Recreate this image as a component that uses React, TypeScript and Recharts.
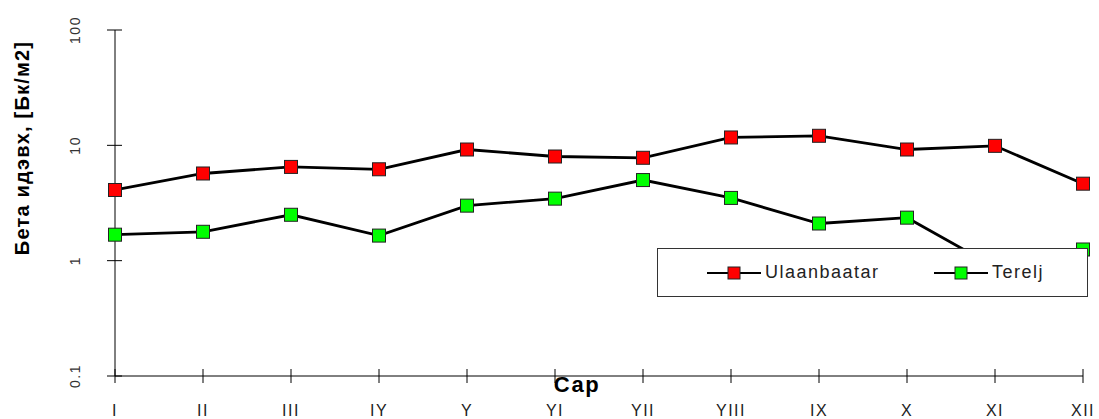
import { LineChart, Line, XAxis, YAxis, Legend, Label } from "recharts"

// monthly beta activity, Bq/m2 (log scale)
const months = ["I", "II", "III", "IY", "Y", "YI", "YII", "YIII", "IX", "X", "XI", "XII"]
const ulaanbaatar = [4.1, 5.7, 6.5, 6.2, 9.2, 8.0, 7.8, 11.7, 12.1, 9.2, 9.9, 4.65]
const terelj = [1.68, 1.78, 2.5, 1.65, 3.0, 3.45, 5.0, 3.5, 2.1, 2.36, 0.88, 1.25]
const yTicks = [0.1, 1, 10, 100]

const data = months.map((m, i) => ({ month: m, ulaanbaatar: ulaanbaatar[i], terelj: terelj[i] }))

const seriesOrder = ["ulaanbaatar", "terelj"]
const markerFill: Record<string, string> = {
  ulaanbaatar: "#ff0000",
  terelj: "#00ff00",
}

const font = "'Liberation Sans', Arial, sans-serif"

const squareDot = (fill: string) => (props: any) => {
  const { cx, cy, index } = props
  if (cx == null || cy == null) return <g key={index} />
  return <rect key={index} x={cx - 6.5} y={cy - 6.5} width={13} height={13} fill={fill} stroke="#222" strokeWidth={1} />
}

const XTick = ({ x, y, payload }: any) => (
  <g>
    <line x1={x} x2={x} y1={y - 7} y2={y + 7} stroke="#000" />
    <text x={x} y={y + 40} textAnchor="middle" fontSize={16} letterSpacing={1.5} fill="#222" fontFamily={font}>
      {payload.value}
    </text>
  </g>
)

const YTick = ({ x, y, payload }: any) => (
  <g>
    <line x1={x - 8} x2={x + 7} y1={y} y2={y} stroke="#000" />
    <text
      x={x - 35}
      y={y}
      textAnchor="middle"
      fontSize={14}
      letterSpacing={1.5}
      fill="#333"
      fontFamily={font}
      transform={`rotate(-90, ${x - 35}, ${y})`}
    >
      {payload.value}
    </text>
  </g>
)

const renderLegend = (props: any) => {
  const items = [...props.payload].sort(
    (a: any, b: any) => seriesOrder.indexOf(a.dataKey) - seriesOrder.indexOf(b.dataKey)
  )
  return (
    <div
      style={{
        width: 431,
        height: 49,
        boxSizing: "border-box",
        border: "1px solid #333",
        background: "#fff",
        display: "flex",
        alignItems: "center",
        paddingLeft: 49,
        fontFamily: font,
      }}
    >
      {items.map((entry: any, i: number) => (
        <div key={i} style={{ display: "flex", alignItems: "center", width: i === 0 ? 227 : "auto" }}>
          <svg width={54} height={14}>
            <line x1={0} x2={54} y1={7} y2={7} stroke="#000" strokeWidth={2} />
            <rect x={21} y={1} width={12} height={12} fill={markerFill[entry.dataKey]} stroke="#222" strokeWidth={1} />
          </svg>
          <span style={{ fontSize: 18, letterSpacing: 1.5, color: "#222", marginLeft: 4 }}>{entry.value}</span>
        </div>
      ))}
    </div>
  )
}

export default function App() {
  return (
    <div style={{ position: "absolute", left: 0, top: 0, width: 1099, height: 419, background: "#fff" }}>
      <LineChart width={1099} height={419} data={data} margin={{ top: 30, right: 16, bottom: 0, left: 0 }}>
        <XAxis
          dataKey="month"
          height={43}
          padding={{ left: 0, right: 0 }}
          axisLine={{ stroke: "#000" }}
          tickLine={false}
          tickSize={0}
          tickMargin={0}
          interval={0}
          tick={<XTick />}
        >
          <Label
            content={() => (
              <text x={577} y={392} textAnchor="middle" fontSize={22} fontWeight={700} letterSpacing={1.5} fill="#000" fontFamily={font}>
                Сар
              </text>
            )}
          />
        </XAxis>
        <YAxis
          type="number"
          scale="log"
          domain={[0.1, 100]}
          ticks={yTicks}
          allowDataOverflow
          width={115}
          axisLine={{ stroke: "#000" }}
          tickLine={false}
          tickSize={0}
          tickMargin={0}
          tick={<YTick />}
        >
          <Label
            content={() => (
              <text
                x={22}
                y={148}
                textAnchor="middle"
                dominantBaseline="central"
                fontSize={20}
                fontWeight={700}
                letterSpacing={1.2}
                fill="#000"
                fontFamily={font}
                transform="rotate(-90, 22, 148)"
              >
                Бета идэвх, [Бк/м2]
              </text>
            )}
          />
        </YAxis>
        <Legend
          layout="horizontal"
          verticalAlign="middle"
          align="center"
          content={renderLegend}
          wrapperStyle={{ left: 657, top: 248, width: 431, height: 49 }}
        />
        <Line
          dataKey="ulaanbaatar"
          name="Ulaanbaatar"
          stroke="#000"
          strokeWidth={2.8}
          dot={squareDot(markerFill.ulaanbaatar)}
          activeDot={false}
          isAnimationActive={false}
        />
        <Line
          dataKey="terelj"
          name="Terelj"
          stroke="#000"
          strokeWidth={2.8}
          dot={squareDot(markerFill.terelj)}
          activeDot={false}
          isAnimationActive={false}
        />
      </LineChart>
    </div>
  )
}
